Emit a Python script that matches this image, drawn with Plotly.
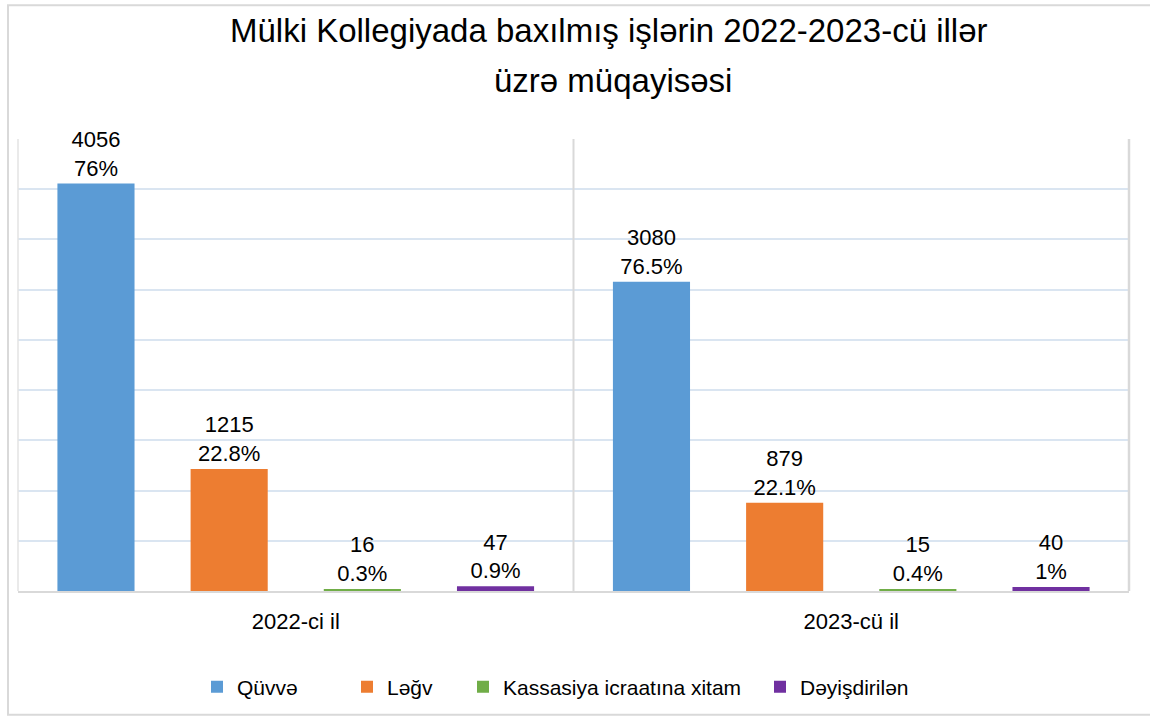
import plotly.graph_objects as go

# ---- data ----
categories = ["2022-ci il", "2023-cü il"]
series_names = ["Qüvvə", "Ləğv", "Kassasiya icraatına xitam", "Dəyişdirilən"]
quvve = [4056, 3080]
legv = [1215, 879]
kassasiya = [16, 15]
deyisdirilen = [47, 40]
quvve_pct = ["76%", "76.5%"]
legv_pct = ["22.8%", "22.1%"]
kassasiya_pct = ["0.3%", "0.4%"]
deyisdirilen_pct = ["0.9%", "1%"]
title_line1 = "Mülki Kollegiyada baxılmış işlərin 2022-2023-cü illər"
title_line2 = "üzrə müqayisəsi"

colors = ["#5B9BD5", "#ED7D31", "#70AD47", "#7030A0"]
values = [quvve, legv, kassasiya, deyisdirilen]
pcts = [quvve_pct, legv_pct, kassasiya_pct, deyisdirilen_pct]
legend_ids = ["legend", "legend2", "legend3", "legend4"]
legend_marker_px = [217, 367, 483, 780]   # target symbol centres (screen px)

FONT = "Liberation Sans, Arial, sans-serif"

W, H = 1150, 718
L, R, T, B = 18, 21, 139, 126
pw, ph = W - L - R, H - T - B

def px_x(px):
    return (px - L) / pw

def px_y(py):
    return (H - B - py) / ph

fig = go.Figure()
for name, vals, pc, col, lid in zip(series_names, values, pcts, colors, legend_ids):
    fig.add_trace(go.Bar(
        x=categories, y=vals, name=name, legend=lid,
        marker=dict(color=col, line=dict(width=0)),
        text=[f"{v}<br>{p}" for v, p in zip(vals, pc)],
        textposition="outside",
        textfont=dict(family=FONT, size=22, color="#000000"),
        constraintext="none",
        cliponaxis=False,
    ))

legend_style = dict(orientation="h", xanchor="left", y=px_y(687), yanchor="middle",
                    font=dict(family=FONT, size=21, color="#000000"),
                    itemwidth=30, bgcolor="rgba(0,0,0,0)", borderwidth=0)
legends = {}
for lid, mpx in zip(legend_ids, legend_marker_px):
    legends[lid] = dict(legend_style, x=px_x(mpx - 20))

fig.update_layout(
    width=W, height=H,
    margin=dict(l=L, r=R, t=T, b=B),
    paper_bgcolor="white", plot_bgcolor="white",
    barmode="group", bargap=0.041, bargroupgap=0.421,
    font=dict(family=FONT, color="#000000"),
    showlegend=True,
    **legends,
    xaxis=dict(range=[-0.5, 1.5], showgrid=False, showline=True,
               linecolor="#d9d9d9", linewidth=2, ticks="",
               tickfont=dict(family=FONT, size=22, color="#000000"),
               ticklabelstandoff=10, zeroline=False),
    yaxis=dict(range=[0, 4500], dtick=500, showticklabels=False,
               showgrid=True, gridcolor="#dae5f1", gridwidth=1.5,
               zeroline=False, showline=False),
    annotations=[
        dict(text=title_line1, xref="paper", yref="paper",
             x=px_x(609), y=px_y(30), xanchor="center", yanchor="middle",
             showarrow=False, font=dict(family=FONT, size=33, color="#000000")),
        dict(text=title_line2, xref="paper", yref="paper",
             x=px_x(613), y=px_y(80), xanchor="center", yanchor="middle",
             showarrow=False, font=dict(family=FONT, size=33, color="#000000")),
    ],
    shapes=[
        # outer chart border
        dict(type="rect", xref="paper", yref="paper",
             x0=px_x(8), x1=px_x(1153), y0=px_y(716), y1=px_y(5),
             line=dict(color="#d9d9d9", width=2), layer="below"),
        # plot-area borders and category divider
        dict(type="line", xref="paper", yref="paper", x0=0, x1=0, y0=0, y1=1,
             line=dict(color="#e3e3e3", width=1.5)),
        dict(type="line", xref="paper", yref="paper", x0=1, x1=1, y0=0, y1=1,
             line=dict(color="#d9d9d9", width=2.5)),
        dict(type="line", xref="x", yref="paper", x0=0.5, x1=0.5, y0=0, y1=1,
             line=dict(color="#d9d9d9", width=2)),
    ],
)

fig.write_html("out.html",
               config={"displayModeBar": False},
               post_script="document.body.style.margin='0px';document.body.style.overflow='hidden';")
